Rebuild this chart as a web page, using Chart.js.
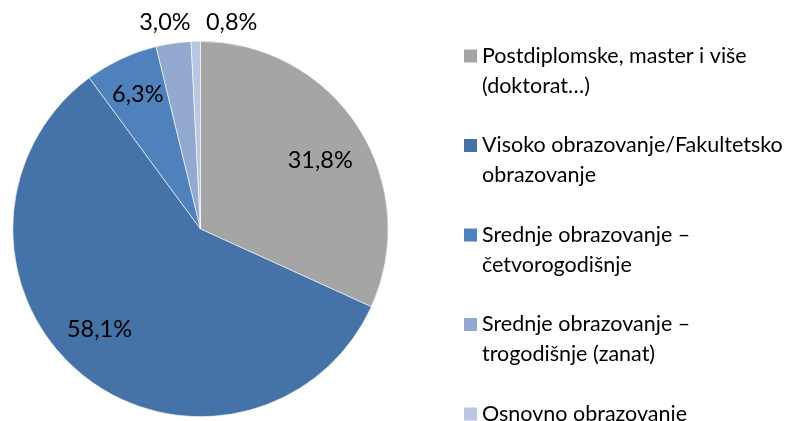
<!DOCTYPE html>
<html>
<head>
<meta charset="utf-8">
<style>
  html, body { margin: 0; padding: 0; background: #fff; }
  #wrap { width: 785px; height: 421px; position: relative; }
</style>
<script src="https://cdn.jsdelivr.net/npm/chart.js@4.4.1/dist/chart.umd.min.js"></script>
</head>
<body>
<div id="wrap"><canvas id="c" width="785" height="421"></canvas></div>
<script>
const categories = [
  "Postdiplomske, master i više (doktorat…)",
  "Visoko obrazovanje/Fakultetsko obrazovanje",
  "Srednje obrazovanje – četvorogodišnje",
  "Srednje obrazovanje – trogodišnje (zanat)",
  "Osnovno obrazovanje"
];
const values = [31.8, 58.1, 6.3, 3.0, 0.8];
const valueLabels = ["31,8%", "58,1%", "6,3%", "3,0%", "0,8%"];
const colors = ["#A5A5A5", "#4572A7", "#4F81BD", "#93A9D0", "#B9C7E3"];

const FONT = "Lato, 'Open Sans', sans-serif";

// label placement: radial factor and angular nudge (degrees) per slice
const labelStyle = {
  radius: [0.735, 0.76, 0.79, 1.115, 1.115],
  nudge: [3, 6, 0, -1.5, 10]
};

const dataLabelPlugin = {
  id: 'dataLabels',
  afterDatasetsDraw(chart) {
    const ctx = chart.ctx;
    const meta = chart.getDatasetMeta(0);
    ctx.save();
    ctx.font = "23.5px " + FONT;
    ctx.fillStyle = "#000";
    ctx.textAlign = "center";
    ctx.textBaseline = "middle";
    meta.data.forEach((arc, i) => {
      const p = arc.getProps(['x', 'y', 'startAngle', 'endAngle', 'outerRadius'], true);
      const mid = (p.startAngle + p.endAngle) / 2 + labelStyle.nudge[i] * Math.PI / 180;
      const r = p.outerRadius * labelStyle.radius[i];
      ctx.fillText(valueLabels[i], p.x + Math.cos(mid) * r, p.y + Math.sin(mid) * r);
    });
    ctx.restore();
  }
};

const legendPlugin = {
  id: 'sideLegend',
  afterDraw(chart) {
    const ctx = chart.ctx;
    const boxX = 464, box = 13, textX = 482;
    const top = 56, step = 89.5, lineH = 30;
    const maxW = chart.width - textX - 1;
    ctx.save();
    ctx.font = "21.5px " + FONT;
    ctx.textBaseline = "middle";
    ctx.textAlign = "left";
    chart.data.labels.forEach((label, i) => {
      const words = label.split(' ');
      const lines = [];
      let cur = '';
      words.forEach(w => {
        const test = cur ? cur + ' ' + w : w;
        if (cur && ctx.measureText(test).width > maxW) { lines.push(cur); cur = w; }
        else cur = test;
      });
      if (cur) lines.push(cur);
      const y = top + i * step;
      ctx.fillStyle = chart.data.datasets[0].backgroundColor[i];
      ctx.fillRect(boxX, y - box / 2, box, box);
      ctx.fillStyle = "#000";
      lines.forEach((ln, k) => ctx.fillText(ln, textX, y + k * lineH));
    });
    ctx.restore();
  }
};

new Chart(document.getElementById('c'), {
  type: 'pie',
  data: {
    labels: categories,
    datasets: [{
      data: values,
      backgroundColor: colors,
      borderColor: '#ffffff',
      borderWidth: 0.6
    }]
  },
  options: {
    responsive: false,
    animation: false,
    layout: { padding: { left: 12, right: 396, top: 41, bottom: 4 } },
    plugins: {
      legend: { display: false },
      tooltip: { enabled: false }
    }
  },
  plugins: [dataLabelPlugin, legendPlugin]
});
</script>
</body>
</html>
